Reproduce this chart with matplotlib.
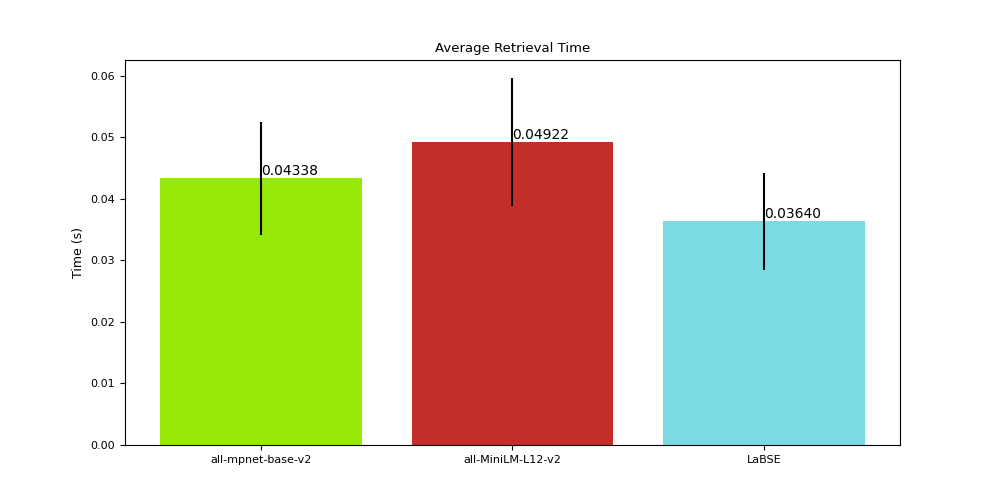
import matplotlib
matplotlib.use("Agg")
import matplotlib.pyplot as plt

models = ["all-mpnet-base-v2", "all-MiniLM-L12-v2", "LaBSE"]
times = [0.04338, 0.04922, 0.03640]
errs = [0.0092, 0.0104, 0.0079]
colors = ["#97e907", "#c42e2a", "#7bdbe3"]

fig, ax = plt.subplots(figsize=(10, 5), dpi=100)
bars = ax.bar(models, times, yerr=errs, color=colors)
for i, t in enumerate(times):
    ax.text(i, t, f"{t:.5f}", ha="left", va="bottom", fontsize=10)
ax.set_title("Average Retrieval Time", fontsize=9.5)
ax.set_ylabel("Time (s)", fontsize=9)
ax.tick_params(labelsize=8)
fig.savefig("out.png")
